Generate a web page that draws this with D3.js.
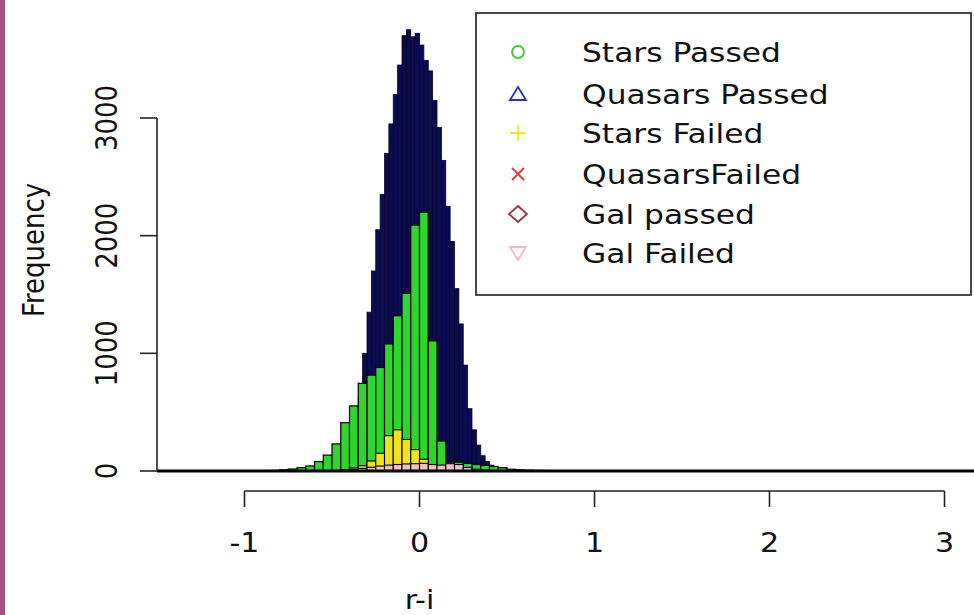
<!DOCTYPE html>
<html>
<head>
<meta charset="utf-8">
<script src="https://cdn.jsdelivr.net/npm/d3@7"></script>
<style>
  html, body { margin: 0; padding: 0; background: #fff; }
  svg { display: block; }
  text { font-family: "DejaVu Sans", sans-serif; fill: #111; }
</style>
</head>
<body>
<svg id="chart" width="974" height="615"></svg>
<script>
// ---------- data ----------
// navy histogram (0.025-wide bins), left edges and counts
const navyBreaks = [-0.8,-0.775,-0.75,-0.725,-0.7,-0.675,-0.65,-0.625,-0.6,-0.575,-0.55,-0.525,-0.5,-0.475,-0.45,-0.425,-0.4,-0.375,-0.35,-0.325,-0.3,-0.275,-0.25,-0.225,-0.2,-0.175,-0.15,-0.125,-0.1,-0.075,-0.05,-0.025,0,0.025,0.05,0.075,0.1,0.125,0.15,0.175,0.2,0.225,0.25,0.275,0.3,0.325,0.35,0.375,0.4,0.425,0.45,0.475,0.5,0.525,0.55,0.575,0.6];
const navyCounts = [3,4,5,6,8,10,13,17,22,30,40,55,75,100,135,180,240,330,620,1000,1350,1700,2050,2350,2700,2950,3200,3450,3700,3750,3690,3720,3620,3490,3400,3150,2920,2640,2250,1950,1550,1250,900,530,350,220,130,80,50,32,22,15,11,8,6,4,3];
const navyWidth = 0.025;

// green / yellow / pink histograms (0.05-wide bins)
const greenBreaks = [-0.9,-0.85,-0.8,-0.75,-0.7,-0.65,-0.6,-0.55,-0.5,-0.45,-0.4,-0.35,-0.3,-0.25,-0.2,-0.15,-0.1,-0.05,0,0.05,0.1,0.15,0.2,0.25,0.3,0.35,0.4,0.45,0.5,0.55,0.6,0.65,0.7,0.75,0.8,0.85,0.9];
const greenCounts = [3,5,10,17,28,43,80,135,230,411,553,745,815,880,1080,1320,1510,2090,2200,1106,255,75,75,65,55,48,38,28,15,10,7,5,4,3,2,2,1];
const yellowBreaks = [-0.5,-0.45,-0.4,-0.35,-0.3,-0.25,-0.2,-0.15,-0.1,-0.05,0,0.05,0.1,0.15];
const yellowCounts = [5,12,25,45,85,150,300,350,268,182,100,42,15,6];
const pinkBreaks = [-0.45,-0.4,-0.35,-0.3,-0.25,-0.2,-0.15,-0.1,-0.05,0,0.05,0.1,0.15,0.2,0.25,0.3,0.35];
const pinkCounts = [5,12,22,32,42,50,55,60,62,65,55,50,62,55,30,15,8];
const wideWidth = 0.05;

const baselineRange = [-1.5, 3.2];

const xTicks = [-1, 0, 1, 2, 3];
const yTicks = [0, 1000, 2000, 3000];

const legendLabels = ["Stars Passed", "Quasars Passed", "Stars Failed", "QuasarsFailed", "Gal passed", "Gal Failed"];
const legendSymbols = ["circle", "triangle", "plus", "cross", "diamond", "invtriangle"];
const legendColors = ["#3ccf3c", "#2a2ac8", "#f2ea1a", "#e03a3a", "#8a3a3a", "#f2b8c6"];

// ---------- drawing ----------
const svg = d3.select("#chart");
const x = d3.scaleLinear().domain([-1, 3]).range([244.5, 944.5]);
const y = d3.scaleLinear().domain([0, 3000]).range([471, 118]);
const SX = 1.16;

// left border stripe
svg.append("rect").attr("x", 0).attr("y", 0).attr("width", 5).attr("height", 615).attr("fill", "#a3507c");

function drawHist(breaks, counts, w, fill, stroke, sw) {
  svg.append("g").selectAll("rect").data(breaks.map((b, i) => ({b, c: counts[i]})))
    .join("rect")
    .attr("x", d => x(d.b))
    .attr("width", d => x(d.b + w) - x(d.b))
    .attr("y", d => y(d.c))
    .attr("height", d => y(0) - y(d.c))
    .attr("fill", fill)
    .attr("stroke", stroke)
    .attr("stroke-width", sw);
}
drawHist(navyBreaks, navyCounts, navyWidth, "#0b0b52", "#05052a", 0.8);
drawHist(greenBreaks, greenCounts, wideWidth, "#2ad82a", "#000", 1.2);
drawHist(yellowBreaks, yellowCounts, wideWidth, "#f2e21c", "#000", 1.1);
drawHist(pinkBreaks, pinkCounts, wideWidth, "#f6bccb", "#000", 1.1);

// baseline (zero-height bins)
svg.append("line")
  .attr("x1", x(baselineRange[0])).attr("x2", x(baselineRange[1]))
  .attr("y1", y(0)).attr("y2", y(0))
  .attr("stroke", "#000").attr("stroke-width", 3.2);

// y axis
const yAxis = svg.append("g");
yAxis.append("line").attr("x1", 157).attr("x2", 157)
  .attr("y1", y(yTicks[0])).attr("y2", y(yTicks[yTicks.length - 1]))
  .attr("stroke", "#222").attr("stroke-width", 1.6);
yTicks.forEach(t => {
  yAxis.append("line").attr("x1", 140).attr("x2", 157).attr("y1", y(t)).attr("y2", y(t))
    .attr("stroke", "#222").attr("stroke-width", 1.6);
  yAxis.append("text")
    .attr("transform", `translate(117,${y(t)}) rotate(-90) scale(1,${SX})`)
    .attr("text-anchor", "middle").attr("font-size", 26).text(t);
});
svg.append("text")
  .attr("transform", `translate(44,250) rotate(-90) scale(1,${SX})`)
  .attr("text-anchor", "middle").attr("font-size", 26).text("Frequency");

// x axis
const xAxis = svg.append("g");
xAxis.append("line").attr("x1", x(xTicks[0])).attr("x2", x(xTicks[xTicks.length - 1]))
  .attr("y1", 491).attr("y2", 491).attr("stroke", "#222").attr("stroke-width", 1.6);
xTicks.forEach(t => {
  xAxis.append("line").attr("x1", x(t)).attr("x2", x(t)).attr("y1", 491).attr("y2", 507)
    .attr("stroke", "#222").attr("stroke-width", 1.6);
  xAxis.append("text")
    .attr("transform", `translate(${x(t)},552) scale(${SX},1)`)
    .attr("text-anchor", "middle").attr("font-size", 26).text(t);
});
svg.append("text")
  .attr("transform", `translate(${x(0)},609) scale(${SX},1)`)
  .attr("text-anchor", "middle").attr("font-size", 26).text("r-i");

// legend
const lg = svg.append("g");
lg.append("rect").attr("x", 476).attr("y", 13).attr("width", 495).attr("height", 282)
  .attr("fill", "#fff").attr("stroke", "#333").attr("stroke-width", 1.8);
const rowY = [52, 94, 133, 174, 214, 253];
legendLabels.forEach((lab, i) => {
  const cx = 518, cy = rowY[i], col = legendColors[i], s = legendSymbols[i];
  const g = lg.append("g").attr("transform", `translate(${cx},${cy})`);
  const st = {fill: "none", stroke: col, "stroke-width": 1.8};
  let el;
  if (s === "circle") el = g.append("circle").attr("r", 6);
  else if (s === "triangle") el = g.append("path").attr("d", "M0,-7L8,6L-8,6Z");
  else if (s === "plus") el = g.append("path").attr("d", "M-8,0H8M0,-8V8");
  else if (s === "cross") el = g.append("path").attr("d", "M-6,-6L6,6M-6,6L6,-6");
  else if (s === "diamond") el = g.append("path").attr("d", "M0,-8L9,0L0,8L-9,0Z");
  else el = g.append("path").attr("d", "M0,7L8,-6L-8,-6Z");
  Object.entries(st).forEach(([k, v]) => el.attr(k, v));
  lg.append("text")
    .attr("transform", `translate(582,${cy + 10}) scale(${SX},1)`)
    .attr("font-size", 27).text(lab);
});
</script>
</body>
</html>
